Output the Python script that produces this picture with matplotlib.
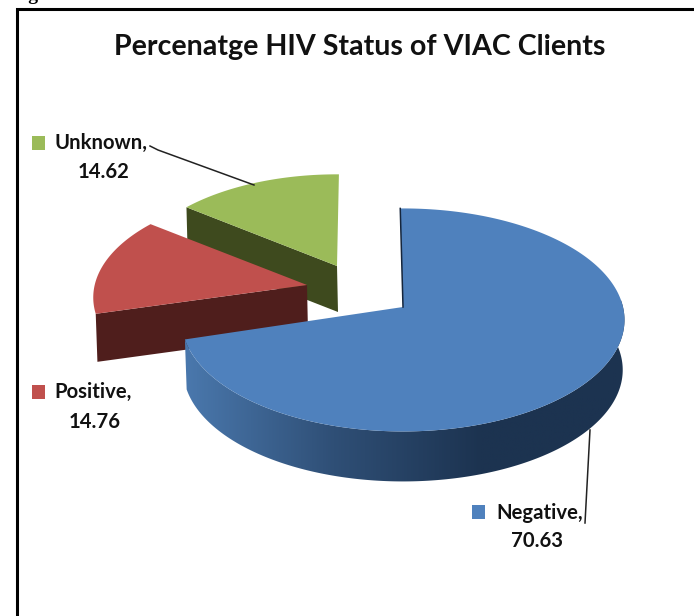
import numpy as np
import matplotlib
matplotlib.use("Agg")
import matplotlib.pyplot as plt
from matplotlib.patches import Polygon, Rectangle
from matplotlib.colors import LinearSegmentedColormap

# data
labels = ["Negative", "Positive", "Unknown"]
values = [70.63, 14.76, 14.62]
colors = ["#4f81bd", "#c0504d", "#9bbb59"]
cut_colors = ["#1c3350", "#4f1e1c", "#3e4a1e"]

title = "Percenatge HIV Status of VIAC Clients"

# apex of each exploded slice in picture pixels, and its size
apex = {"Negative": (403, 307), "Positive": (307, 285), "Unknown": (337, 266)}
scale = {"Negative": 1.0, "Positive": 0.965, "Unknown": 0.93}
depth = {"Negative": 50, "Positive": 48, "Unknown": 46}
turn = {"Negative": -0.8, "Positive": 0.5, "Unknown": 0.6}
R, S, P = 220, 110, 0.116


def ring(name, theta, lower=False):
    # tilted circle with a bit of perspective, theta clockwise from 12 o'clock
    ax0, ay0 = apex[name]
    k = scale[name]
    u = np.sin(theta)
    v = -np.cos(theta)
    w = 1 / (1 - P * v)
    sx = 0.992 if lower else 1.0
    x = ax0 + R * k * sx * u * w
    y = ay0 + S * k * v * w + (depth[name] if lower else 0)
    return x, y


fig = plt.figure(figsize=(6.94, 6.16), dpi=100)
ax = fig.add_axes([0, 0, 1, 1])
ax.axis("off")
plt.rcParams["font.family"] = ["Lato", "DejaVu Sans"]

# slice angles come from the values
ends = np.cumsum(values) / sum(values) * 2 * np.pi
starts = np.r_[0, ends[:-1]]
span = {n: (a + np.radians(turn[n]), b + np.radians(turn[n]))
        for n, a, b in zip(labels, starts, ends)}
col = dict(zip(labels, colors))
cut = dict(zip(labels, cut_colors))

wall_cmap = LinearSegmentedColormap.from_list("wall", ["#4a78ad", "#2f4f76", "#1c3350", "#1c3350"])


def draw_slice(name):
    a, b = span[name]
    th = np.linspace(a, b, 200)
    ax0, ay0 = apex[name]
    d = depth[name]
    if name != "Negative":
        # cut face running from the apex to the leading edge of the slice
        x1, y1 = ring(name, a)
        x2, y2 = ring(name, a, lower=True)
        ax.add_patch(Polygon([(x1, y1), (ax0, ay0), (ax0 + 1, ay0 + d), (x2, y2)],
                             closed=True, fc=cut[name], ec="none", zorder=2))
    else:
        # outer wall, shaded from left to right
        tw = np.linspace(np.radians(70), b, 260)
        xt, yt = ring(name, tw)
        xb, yb = ring(name, tw, lower=True)
        wall = Polygon(np.r_[np.c_[xt, yt], np.c_[xb, yb][::-1]], closed=True,
                       fc="none", ec="none", transform=ax.transData)
        ax.add_patch(wall)
        im = ax.imshow(np.linspace(0, 1, 256).reshape(1, -1), cmap=wall_cmap, aspect="auto",
                       extent=[185, 630, 500, 300], zorder=3)
        im.set_clip_path(wall)
    x, y = ring(name, th)
    pts = np.r_[[(ax0, ay0)], np.c_[x, y]]
    ax.add_patch(Polygon(pts, closed=True, fc=col[name], ec="none",
                         zorder=4 if name == "Negative" else 2.5))
    if name == "Negative":
        ax.plot([x[0], ax0], [y[0], ay0], color="#16263c", lw=1.1, zorder=4.5)


for name in ["Unknown", "Positive", "Negative"]:
    draw_slice(name)

ax.set_xlim(0, 694)
ax.set_ylim(616, 0)

# leader lines
ax.plot([150, 158, 254], [146, 150, 185], color="#222222", lw=1.1, zorder=5)
ax.plot([590, 585], [430, 523], color="#222222", lw=1.1, zorder=5)

# title and data labels
ax.text(360, 47, title, fontsize=20.6, fontweight="bold", ha="center", va="center",
        color="#111111")

label_pos = {"Unknown": (55, 143, 104, 172, 32, 136),
             "Positive": (54, 392, 95, 422, 32, 385),
             "Negative": (496, 513, 537, 541, 472, 505)}
for name, v in zip(labels, values):
    lx, ly, nx, ny, sx, sy = label_pos[name]
    ax.add_patch(Rectangle((sx, sy), 13.5, 13.5, fc=col[name], ec="none", zorder=6))
    ax.text(lx, ly, name + ",", fontsize=14.6, fontweight="bold", ha="left", va="center",
            color="#111111", zorder=6)
    ax.text(nx, ny, f"{v:.2f}", fontsize=14.6, fontweight="bold", ha="center", va="center",
            color="#111111", zorder=6)

# black frame of the scanned page, open on the right and at the bottom
ax.plot([694, 17.5, 17.5], [8.5, 8.5, 616], color="black", lw=2.2, zorder=7,
        solid_joinstyle="miter")
# bottom of the cut off caption
ax.text(39, 0, "Fig", family="Liberation Serif", fontsize=14, fontweight="bold",
        ha="right", va="baseline", color="black", zorder=7)

fig.savefig("out.png", dpi=100)
